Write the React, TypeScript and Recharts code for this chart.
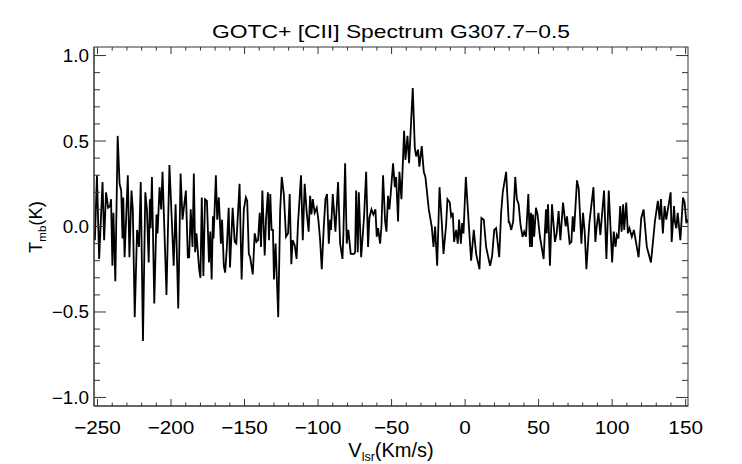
import { LineChart, Line, XAxis, YAxis } from 'recharts';

// G307.7-0.5 [CII] spectrum in three stretches
const velocityWest = [
  -251.8, -250.4, -248.9, -246.6, -245.5, -244.2, -242.8, -241.5, -240.8, -239.9,
  -239.2, -237.9, -236.3, -235.0, -233.9, -233.0, -232.5, -231.6, -229.4, -228.3,
  -226.9, -226.0, -224.7, -223.1, -221.8, -220.6, -219.1, -217.5, -216.4, -215.2,
  -214.4, -213.9, -213.0, -211.4, -209.9, -209.2, -207.8, -206.7, -205.8, -203.1,
  -201.1, -199.6, -198.2, -196.9, -195.1, -193.5, -192.2, -189.9, -188.6, -187.7,
  -186.6, -185.4, -184.5, -183.6, -182.7, -180.9, -180.0, -179.1, -178.0, -176.9,
  -175.6, -174.2, -173.3, -172.4, -171.5, -171.1, -169.5, -168.6, -167.5, -166.1,
  -165.3, -164.1, -163.2, -162.1, -160.8, -159.9, -158.1, -156.7, -155.6, -153.4,
  -152.0, -150.5, -149.1, -148.2, -147.1, -146.2, -144.4, -143.1, -141.9, -140.8,
  -139.7, -138.8, -137.9, -136.3, -135.4, -134.1, -133.4, -132.5, -131.6, -130.7,
  -130.0, -128.9, -127.1, -125.8, -124.7, -123.3, -121.8, -120.4, -119.3, -118.2,
  -117.3, -115.9, -114.6, -113.7,
];
const tmbWest = [
  -0.08, 0.30, -0.19, 0.26, -0.08, 0.20, 0.11, 0.12, 0.16, -0.23,
  0.08, -0.32, 0.53, 0.25, 0.21, -0.07, 0.17, -0.18, 0.30, -0.18,
  0.21, 0.10, -0.53, -0.02, -0.12, 0.26, -0.67, 0.20, 0.10, -0.21,
  0.16, -0.01, 0.29, -0.45, 0.07, -0.04, 0.23, 0.10, 0.32, -0.40,
  0.36, 0.06, -0.23, 0.13, -0.48, 0.31, 0.04, 0.21, -0.18, -0.18,
  0.10, -0.12, 0.31, -0.15, -0.04, -0.25, -0.30, 0.17, -0.29, 0.16,
  0.15, -0.21, -0.03, -0.31, 0.06, -0.07, 0.30, 0.04, 0.17, -0.10,
  0.04, -0.23, -0.27, -0.13, 0.11, -0.24, 0.11, -0.09, -0.10, 0.25,
  -0.31, 0.10, 0.17, 0.15, -0.16, -0.18, -0.28, -0.04, -0.09, -0.08,
  0.08, -0.12, 0.21, -0.17, 0.04, 0.20, -0.08, 0.19, -0.02, -0.02,
  -0.31, -0.10, -0.53, 0.09, 0.29, 0.19, -0.06, -0.04, 0.19, -0.22,
  -0.08, -0.11, -0.19, 0.01,
];

const velocityLine = [
  -111.6, -110.4, -109.1, -107.7, -106.4, -105.4, -104.5, -103.6, -102.3, -100.9,
  -99.8, -98.6, -97.5, -96.1, -95.0, -93.9, -92.7, -91.8, -91.2, -90.0,
  -88.2, -86.4, -85.0, -83.4, -82.8, -81.6, -80.5, -79.4, -77.8, -75.5,
  -74.8, -74.1, -73.0, -72.3, -70.7, -68.7, -67.3, -66.0, -65.1, -63.7,
  -62.4, -61.0, -60.1, -59.2, -57.8, -56.9, -55.8, -54.4, -53.5, -52.4,
  -51.5, -50.6, -49.0, -47.8, -46.9, -45.6, -44.7, -43.3, -41.5, -40.6,
  -39.2, -38.1, -35.6, -34.2, -33.3, -32.0, -31.1, -29.5, -28.1, -27.0,
  -24.7, -22.7, -21.5, -20.4, -19.0, -17.4, -15.9, -14.7, -12.9, -12.0,
  -10.4, -9.5, -8.4, -7.5, -6.1, -5.0, -4.1, -2.9, -2.0, -1.1,
  0.5, 2.3, 4.1, 5.9, 7.5, 9.8, 11.1, 12.7, 14.3, 17.0,
  18.4, 19.8, 21.1, 23.2, 24.5, 25.6, 27.9, 29.7,
];
const tmbLine = [
  0.30, -0.08, 0.25, 0.08, -0.03, 0.18, 0.07, 0.16, 0.08, 0.11,
  0.04, -0.08, -0.25, 0.00, 0.16, 0.19, -0.10, 0.04, -0.02, 0.19,
  -0.03, 0.26, -0.10, -0.19, -0.05, 0.37, -0.10, -0.02, -0.16, -0.16,
  -0.15, 0.21, -0.15, 0.20, -0.18, 0.06, 0.32, -0.12, 0.05, 0.10,
  0.07, 0.10, -0.06, -0.01, -0.10, 0.00, 0.30, 0.03, -0.03, 0.18,
  0.10, 0.19, 0.37, 0.23, 0.29, 0.03, 0.32, 0.16, 0.56, 0.39,
  0.53, 0.37, 0.81, 0.46, 0.41, 0.45, 0.35, 0.47, 0.32, 0.29,
  0.10, 0.00, -0.12, 0.00, -0.23, 0.23, 0.03, -0.16, 0.01, 0.16,
  0.14, 0.06, 0.08, -0.09, -0.02, -0.10, 0.04, -0.10, 0.02, -0.04,
  0.29, 0.04, -0.20, -0.02, -0.16, -0.25, 0.05, 0.04, -0.12, -0.23,
  -0.17, -0.02, -0.01, -0.18, 0.08, 0.20, 0.32, 0.02,
];

const velocityEast = [
  30.0, 31.4, 32.7, 34.1, 35.2, 36.4, 37.7, 39.1, 40.2, 41.4,
  43.0, 44.1, 44.8, 45.5, 46.1, 47.0, 48.2, 49.3, 50.9, 53.4,
  55.0, 55.5, 56.4, 57.7, 59.1, 61.1, 62.3, 63.6, 64.8, 66.6,
  68.4, 69.3, 71.1, 72.3, 73.2, 74.1, 76.1, 77.3, 79.1, 80.2,
  81.4, 82.5, 83.9, 84.5, 85.7, 87.3, 88.6, 89.5, 90.7, 92.0,
  94.5, 96.1, 97.7, 100.0, 101.1, 102.3, 103.2, 104.3, 105.5, 106.4,
  107.5, 108.2, 109.6, 110.7, 111.8, 113.4, 114.8, 118.0, 119.8, 121.4,
  123.6, 126.4, 128.0, 129.1, 131.1, 132.3, 133.2, 134.5, 135.7, 136.8,
  139.8, 140.5, 142.1, 142.7, 143.6, 144.6, 146.4, 148.2, 149.3, 150.5,
  151.4,
];
const tmbEast = [
  0.03, -0.02, 0.03, 0.29, 0.16, 0.13, 0.01, -0.06, -0.03, -0.06,
  0.19, -0.12, 0.08, -0.12, 0.07, -0.06, 0.11, 0.07, -0.06, -0.19,
  0.10, -0.04, 0.13, -0.23, 0.13, -0.09, -0.04, 0.09, -0.08, 0.14,
  0.00, 0.06, -0.10, -0.09, 0.06, -0.03, 0.27, 0.22, -0.10, 0.08,
  -0.04, -0.25, -0.06, 0.02, 0.11, 0.23, -0.09, 0.00, 0.08, -0.05,
  0.21, -0.19, 0.21, -0.21, -0.03, -0.12, -0.05, -0.07, 0.12, -0.03,
  0.13, -0.02, 0.14, -0.04, -0.01, -0.06, -0.02, -0.18, 0.05, 0.10,
  -0.12, -0.21, -0.07, 0.03, 0.15, 0.04, 0.16, -0.04, 0.12, 0.04,
  0.20, -0.09, 0.12, 0.03, -0.01, 0.08, -0.08, 0.17, 0.14, 0.02,
  0.04,
];

const xMajorTicks = [-250, -200, -150, -100, -50, 0, 50, 100, 150];
const yMajorTicks = [-1.0, -0.5, 0.0, 0.5, 1.0];

const velocity = [...velocityWest, ...velocityLine, ...velocityEast];
const tmb = [...tmbWest, ...tmbLine, ...tmbEast];
const data = velocity.map((v, i) => ({ v, t: tmb[i] }));

// minor ticks: 5 per major interval, like IDL
const xTicks: number[] = [];
for (let i = 0; i < xMajorTicks.length - 1; i++) {
  const step = (xMajorTicks[i + 1] - xMajorTicks[i]) / 5;
  for (let k = 0; k < 5; k++) xTicks.push(xMajorTicks[i] + k * step);
}
xTicks.push(xMajorTicks[xMajorTicks.length - 1]);
const yTicks: number[] = [];
for (let i = 0; i < yMajorTicks.length - 1; i++) {
  const step = (yMajorTicks[i + 1] - yMajorTicks[i]) / 5;
  for (let k = 0; k < 5; k++) yTicks.push(+(yMajorTicks[i] + k * step).toFixed(2));
}
yTicks.push(yMajorTicks[yMajorTicks.length - 1]);

const FONT = '"Liberation Sans", Arial, Helvetica, sans-serif';
const AXIS = '#333';
const X_DOMAIN: [number, number] = [-252.4, 151.6];
const Y_DOMAIN: [number, number] = [-1.05, 1.05];

// plot box (IDL draws a closed box with ticks on all four sides)
const W = 742;
const H = 464;
const BOX = { left: 94, top: 47, right: 688, bottom: 406 };
const BOX_W = BOX.right - BOX.left;
const BOX_H = BOX.bottom - BOX.top;

const fmt = (v: number, digits: number) =>
  (v < 0 ? '\u2212' : '') + Math.abs(v).toFixed(digits);
const isMajor = (v: number, majors: number[]) => majors.some((m) => Math.abs(m - v) < 1e-6);

function XTick({ x, y, payload }: any) {
  const major = isMajor(payload.value, xMajorTicks);
  const len = major ? 7 : 3.5;
  return (
    <g>
      <line x1={x} x2={x} y1={y} y2={y - len} stroke={AXIS} />
      <line x1={x} x2={x} y1={y - BOX_H} y2={y - BOX_H + len} stroke={AXIS} />
      {major && (
        <text
          transform={`translate(${x} ${y + 27.5}) scale(1.12 1)`}
          textAnchor="middle"
          fontSize={18.5}
          fontFamily={FONT}
          fill="#000"
        >
          {fmt(payload.value, 0)}
        </text>
      )}
    </g>
  );
}

function YTick({ x, y, payload }: any) {
  const major = isMajor(payload.value, yMajorTicks);
  const len = major ? 12 : 6;
  return (
    <g>
      <line x1={x} x2={x + len} y1={y} y2={y} stroke={AXIS} />
      <line x1={x + BOX_W} x2={x + BOX_W - len} y1={y} y2={y} stroke={AXIS} />
      {major && (
        <text
          transform={`translate(${x - 5} ${y + 6.5}) scale(1.08 1)`}
          textAnchor="end"
          fontSize={17.5}
          fontFamily={FONT}
          fill="#000"
        >
          {fmt(payload.value, 1)}
        </text>
      )}
    </g>
  );
}

export default function App() {
  return (
    <div style={{ position: 'absolute', left: 0, top: 0, width: W, height: H, background: '#fff' }}>
      <LineChart
        width={W}
        height={H}
        data={data}
        margin={{ top: BOX.top, right: W - BOX.right, bottom: 0, left: 0 }}
      >
        <XAxis
          dataKey="v"
          type="number"
          domain={X_DOMAIN}
          allowDataOverflow
          ticks={xTicks}
          interval={0}
          height={H - BOX.bottom}
          tickSize={0}
          tickMargin={0}
          tickLine={false}
          axisLine={{ stroke: AXIS }}
          tick={(p: any) => <XTick {...p} />}
        />
        <YAxis
          type="number"
          domain={Y_DOMAIN}
          allowDataOverflow
          ticks={yTicks}
          interval={0}
          width={BOX.left}
          tickSize={0}
          tickMargin={0}
          tickLine={false}
          axisLine={{ stroke: AXIS }}
          tick={(p: any) => <YTick {...p} />}
        />
        <rect
          x={BOX.left}
          y={BOX.top}
          width={BOX_W}
          height={BOX_H}
          fill="none"
          stroke={AXIS}
        />
        <Line
          dataKey="t"
          type="linear"
          stroke="#000"
          strokeWidth={1.8}
          dot={false}
          isAnimationActive={false}
        />
        <text
          x={(BOX.left + BOX.right) / 2}
          y={38}
          textAnchor="middle"
          fontSize={19}
          textLength={358}
          lengthAdjust="spacingAndGlyphs"
          fontFamily={FONT}
          fill="#000"
        >
          GOTC+ [CII] Spectrum G307.7{'\u2212'}0.5
        </text>
        <text x={(BOX.left + BOX.right) / 2} y={457} textAnchor="middle" fontSize={20} fontFamily={FONT} fill="#000">
          V<tspan fontSize={12.5} dy={4}>lsr</tspan>
          <tspan dy={-4}>(Km/s)</tspan>
        </text>
        <text
          transform="translate(41.5 227) rotate(-90)"
          textAnchor="middle"
          fontSize={18.5}
          fontFamily={FONT}
          fill="#000"
        >
          T<tspan fontSize={11.5} dy={4}>mb</tspan>
          <tspan dy={-4}>(K)</tspan>
        </text>
      </LineChart>
    </div>
  );
}
